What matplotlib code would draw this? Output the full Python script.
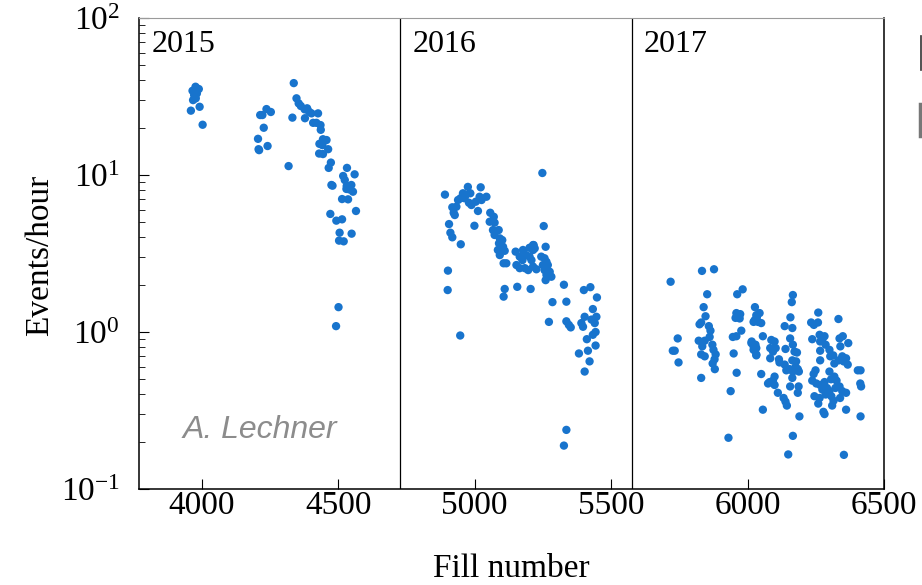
import matplotlib
matplotlib.use('Agg')
import matplotlib.pyplot as plt
from matplotlib.lines import Line2D
from matplotlib.ticker import LogLocator, LogFormatterSciNotation, NullFormatter

plt.rcParams['font.family'] = 'Liberation Serif'
plt.rcParams['mathtext.fontset'] = 'custom'
plt.rcParams['mathtext.rm'] = 'Liberation Serif'
plt.rcParams['mathtext.it'] = 'Liberation Serif:italic'

# events/hour per fill
fill_2015 = [3977, 3966, 3989, 3972, 3982, 3968, 3978, 3960, 3992, 4003,
             4214, 4222, 4237, 4253, 4227, 4206, 4208, 4210, 4241, 4318,
             4337, 4332, 4347, 4355, 4363, 4377, 4386, 4393, 4378, 4402,
             4426, 4408, 4420, 4435, 4436, 4444, 4457, 4431, 4442, 4463,
             4430, 4444, 4473, 4465, 4475, 4479, 4532, 4518, 4524, 4560,
             4531, 4542, 4530, 4548, 4554, 4540, 4514, 4536, 4471, 4565,
             4493, 4514, 4505, 4549, 4503, 4520, 4501, 4492]
rate_2015 = [36.5, 34.4, 35.3, 32.3, 33.1, 30.0, 30.8, 25.7, 27.2, 20.9,
             24.1, 24.1, 26.3, 25.2, 20.0, 17.0, 14.6, 14.4, 15.3, 11.4,
             38.5, 23.2, 30.8, 28.6, 27.5, 26.2, 26.6, 25.3, 23.0, 24.7,
             24.7, 21.5, 21.5, 20.8, 19.4, 16.9, 16.7, 15.8, 15.5, 14.6,
             13.7, 13.6, 12.0, 11.1, 8.64, 8.55, 11.1, 9.86, 9.29, 10.1,
             8.51, 8.42, 8.15, 8.64, 7.83, 8.1, 7.03, 7.0, 5.65, 5.9,
             5.12, 5.22, 4.29, 4.23, 3.82, 3.78, 1.44, 1.09]

fill_2016 = [5248, 4891, 4975, 5022, 4957, 4967, 4984, 4939, 4948, 4963,
             4979, 4988, 5004, 5018, 5043, 5025, 4918, 4933, 4923, 4927,
             5012, 5057, 5070, 5055, 5073, 4906, 4999, 5253, 5067, 5088,
             5073, 4911, 4918, 4949, 5092, 5101, 5089, 5104, 5085, 5098,
             5110, 5092, 5106, 5116, 5150, 5177, 5201, 5214, 5220, 5165,
             5189, 5201, 5175, 5208, 5153, 5165, 5184, 5196, 5214, 5226,
             5260, 5244, 5256, 5263, 5250, 5268, 5256, 5275, 5263, 5281,
             5260, 4902, 4901, 5110, 5106, 5156, 5205, 5285, 5216, 5214,
             5327, 5336, 5272, 5336, 5345, 5352, 5400, 5424, 5448, 5433,
             5446, 5440, 5428, 5403, 5391, 5397, 5443, 5433, 5411, 5443,
             5415, 5382, 5421, 5403, 5336, 5327, 4947]
rate_2016 = [10.3, 7.5, 8.4, 8.35, 7.65, 7.46, 7.65, 6.93, 7.11, 7.11,
             6.66, 6.44, 6.76, 7.27, 7.27, 6.93, 6.23, 6.28, 5.75, 5.56,
             5.9, 5.75, 5.42, 5.04, 4.97, 4.87, 4.75, 4.73, 4.46, 4.46,
             4.15, 4.29, 4.01, 3.62, 3.95, 3.85, 3.67, 3.49, 3.33, 3.33,
             3.29, 3.09, 2.74, 2.74, 3.25, 3.33, 3.44, 3.58, 3.41, 3.02,
             3.09, 3.02, 2.87, 2.87, 2.67, 2.55, 2.55, 2.48, 2.61, 2.51,
             3.49, 3.02, 2.95, 2.80, 2.67, 2.67, 2.48, 2.42, 2.31, 2.25,
             2.14, 2.46, 1.85, 1.88, 1.68, 1.94, 1.88, 1.55, 3.58, 3.33,
             2.0, 1.56, 1.16, 1.17, 1.11, 1.07, 1.85, 1.93, 1.66, 1.40,
             1.25, 1.14, 1.20, 1.25, 1.14, 1.08, 1.0, 0.96, 0.90, 0.82,
             0.76, 0.73, 0.65, 0.56, 0.238, 0.189, 0.95]

fill_2017 = [5718, 5833, 5877, 5852, 5839, 5846, 5830, 5824, 5858, 5864,
             5861, 5744, 5821, 5843, 5834, 5871, 5875, 5726, 5733, 5830,
             5843, 5883, 5879, 5747, 5872, 5880, 5830, 5962, 5982, 5959,
             5973, 5956, 5971, 5977, 5946, 5959, 5949, 5960, 5938, 5930,
             6027, 6026, 6034, 6015, 6022, 6032, 6032, 6166, 6162, 6032,
             6044, 6022, 6038, 6050, 6157, 6136, 6164, 6259, 6233, 6258,
             6243, 6333, 6056, 6014, 6029, 6022, 6032, 6087, 6099, 6083,
             6103, 6093, 6156, 6166, 6172, 6181, 6164, 6178, 6176, 6184,
             6188, 6139, 6083, 6115, 6117, 6136, 6142, 6154, 6166, 6164,
             6050, 6099, 6093, 6081, 6075, 6099, 6156, 6187, 6184, 6111,
             6132, 6139, 6144, 6056, 6190, 6166, 6149, 6237, 6264, 6274,
             6282, 6266, 6286, 6300, 6266, 6314, 6303, 6337, 6349, 6369,
             6340, 6347, 6361, 6352, 6367, 6334, 6318, 6266, 6249, 6242,
             6300, 6318, 6306, 6326, 6237, 6252, 6266, 6282, 6291, 6274,
             6300, 6322, 6337, 6347, 6361, 6245, 6264, 6286, 6307, 6315,
             6339, 6259, 6310, 6278, 6282, 6361, 6353, 6404, 6414, 6413,
             6416, 6414]
rate_2017 = [2.09, 2.45, 2.51, 1.74, 1.44, 1.26, 1.15, 1.12, 1.09, 1.02,
             0.93, 0.91, 0.88, 0.88, 0.81, 0.83, 0.77, 0.76, 0.76, 0.72,
             0.70, 0.72, 0.67, 0.64, 0.63, 0.58, 0.51, 1.74, 1.87, 1.32,
             1.30, 1.23, 1.22, 1.02, 0.93, 0.94, 0.73, 0.55, 0.42, 0.212,
             1.44, 1.19, 1.24, 0.87, 0.81, 0.79, 0.72, 1.72, 1.55, 1.28,
             1.32, 1.16, 1.16, 1.14, 1.24, 1.09, 1.06, 1.33, 1.15, 1.15,
             1.11, 1.21, 0.94, 0.85, 0.83, 0.77, 0.71, 0.89, 0.87, 0.79,
             0.79, 0.75, 0.91, 0.83, 0.75, 0.74, 0.66, 0.65, 0.60, 0.58,
             0.56, 0.78, 0.68, 0.67, 0.64, 0.62, 0.57, 0.58, 0.56, 0.51,
             0.54, 0.52, 0.49, 0.48, 0.47, 0.46, 0.45, 0.45, 0.41, 0.41,
             0.38, 0.36, 0.34, 0.32, 0.29, 0.218, 0.166, 0.90, 0.96, 0.90,
             0.94, 0.87, 0.83, 0.77, 0.76, 0.71, 0.70, 0.91, 0.94, 0.85,
             0.81, 0.70, 0.68, 0.65, 0.62, 0.66, 0.63, 0.66, 0.57, 0.54,
             0.56, 0.52, 0.50, 0.49, 0.49, 0.47, 0.46, 0.48, 0.44, 0.43,
             0.42, 0.44, 0.45, 0.42, 0.41, 0.39, 0.38, 0.40, 0.39, 0.365,
             0.38, 0.35, 0.34, 0.31, 0.30, 0.32, 0.165, 0.57, 0.57, 0.47,
             0.45, 0.29]

years = ['2015', '2016', '2017']
year_start = [3770, 4727, 5575]

blue = '#1874CD'

fig = plt.figure(figsize=(9.22, 5.85), dpi=100)
ax = fig.add_axes([0.1508, 0.1641, 0.8080, 0.8051])

for f, r in [(fill_2015, rate_2015), (fill_2016, rate_2016), (fill_2017, rate_2017)]:
    ax.scatter(f, r, s=36, color=blue, edgecolors='none', zorder=3)

for xv in year_start[1:]:
    ax.axvline(xv, color='black', lw=0.9, zorder=2)

for yr, xs in zip(years, year_start):
    ax.text(xs + 45, 0.975, yr, transform=ax.get_xaxis_transform(),
            fontsize=23, va='top', ha='left')

ax.text(0.162, 0.125, 'A. Lechner', transform=ax.transAxes, fontsize=23,
        color='#8c8c8c', style='italic', family='Liberation Sans',
        ha='center', va='center')

ax.set_yscale('log')
ax.set_xlim(3770, 6500)
ax.set_ylim(0.1, 100)
ax.set_xticks([4000, 4500, 5000, 5500, 6000, 6500])
ax.yaxis.set_major_locator(LogLocator(base=10, numticks=10))
ax.yaxis.set_major_formatter(LogFormatterSciNotation())
ax.yaxis.set_minor_locator(LogLocator(base=10, subs=range(2, 10), numticks=10))
ax.yaxis.set_minor_formatter(NullFormatter())

ax.tick_params(axis='both', which='both', direction='in', labelsize=24,
               top=False, right=False)
ax.tick_params(axis='x', which='major', length=7, pad=1)
ax.tick_params(axis='y', which='major', length=7, pad=14)
ax.tick_params(axis='y', which='minor', length=4)

ax.spines['top'].set_color('#9a9a9a')
for s in ['left', 'right', 'bottom']:
    ax.spines[s].set_linewidth(1.1)

ax.set_xlabel('Fill number', fontsize=24)
ax.set_ylabel('Events/hour', fontsize=24)
ax.xaxis.set_label_coords(0.50, -0.138)
ax.yaxis.set_label_coords(-0.113, 0.497)

# bits of a legend that sits past the right edge
fig.add_artist(Line2D([0.9985, 0.9985], [0.880, 0.938], transform=fig.transFigure,
                      color='#333333', lw=1.2))
fig.add_artist(Line2D([0.998, 0.998], [0.768, 0.822], transform=fig.transFigure,
                      color='#777777', lw=2.5))

fig.savefig('out.png', dpi=100)
